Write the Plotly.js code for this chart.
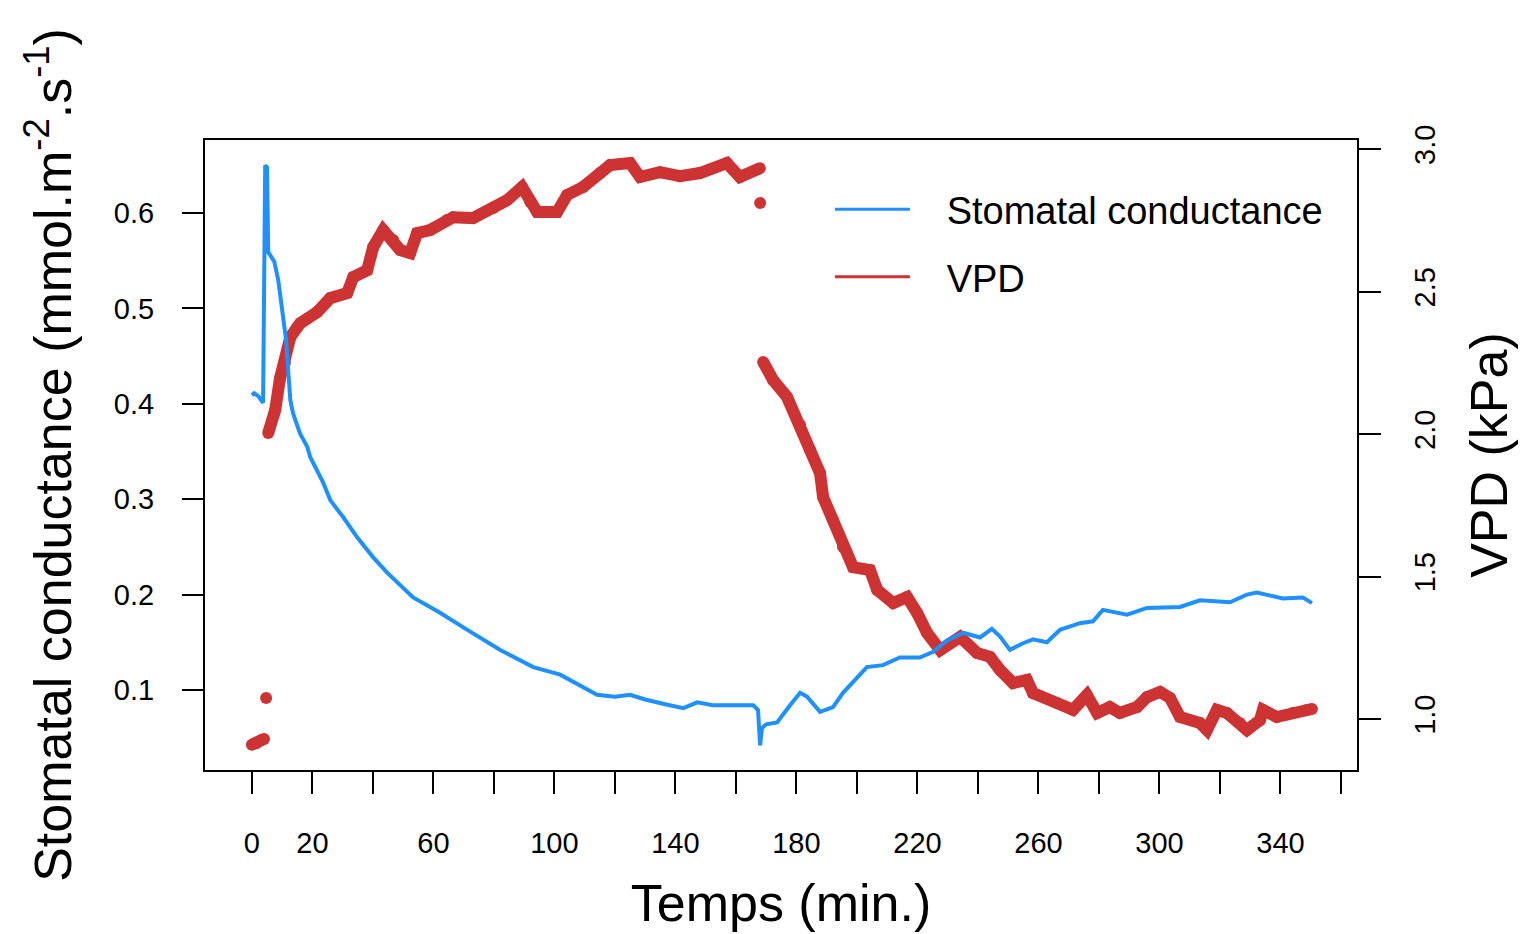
<!DOCTYPE html>
<html>
<head>
<meta charset="utf-8">
<script src="https://cdn.plot.ly/plotly-3.0.1.min.js"></script>
<style>html,body{margin:0;padding:0;background:#fff;}#chart{width:1523px;height:934px;}</style>
</head>
<body>
<div id="chart"></div>
<script>
// Stomatal conductance (mmol m-2 s-1) vs time (min)
const gsTime = [0,0.8,2.1,3.1,3.7,4.4,5.0,5.4,7.4,8.7,10.3,11.3,12.0,12.7,13.6,15.9,18.3,19.3,23.6,25.9,30.2,34.8,40.1,44.7,53.3,62.2,71.2,82.1,93.0,101.9,114.1,120.0,125.0,130.0,136.6,142.6,147.2,152.4,165.7,167.3,168.0,168.6,170.0,173.6,177.9,181.2,183.5,187.8,192.1,195.4,203.3,208.6,214.2,220.8,225.2,229.8,235.1,240.7,244.6,247.3,250.6,254.9,258.2,262.8,267.1,273.7,278.0,281.3,289.3,295.9,306.8,313.4,323.3,328.9,332.2,340.8,347.4,350.4];
const gsValue = [0.409,0.411,0.408,0.403,0.401,0.650,0.648,0.559,0.549,0.530,0.488,0.467,0.435,0.404,0.390,0.369,0.355,0.344,0.317,0.299,0.281,0.260,0.239,0.223,0.197,0.181,0.163,0.142,0.124,0.116,0.095,0.093,0.095,0.090,0.085,0.081,0.087,0.084,0.084,0.079,0.042,0.060,0.064,0.066,0.084,0.097,0.093,0.077,0.082,0.097,0.124,0.126,0.134,0.134,0.140,0.152,0.160,0.155,0.164,0.156,0.142,0.149,0.153,0.150,0.163,0.170,0.172,0.184,0.179,0.186,0.187,0.194,0.192,0.200,0.202,0.196,0.197,0.191];

// VPD (kPa) vs time (min); null separates the recorded point groups
const vpdTime = [0,1.5,3,4,null,4.7,null,5.4,7.7,9.3,10.9,12.7,15.0,16.0,21.6,25.9,31.5,33.5,38.1,40.1,43.4,46.7,49.0,52.3,54.6,58.9,64.5,66.5,73.1,79.8,84.4,89.3,92.0,94.3,100.9,104.2,109.5,115.1,118.4,125.0,128.3,134.9,141.5,148.1,157.0,161.3,167.9,null,168.0,null,169.0,172.3,176.9,181.2,184.5,187.8,188.8,192.1,195.4,198.7,204.3,206.7,212.0,216.6,219.9,223.2,227.5,234.1,239.7,244.0,247.3,251.6,256.2,258.2,266.1,271.4,276.0,279.4,283.6,286.9,292.6,295.9,300.2,303.5,306.8,313.4,315.7,319.0,322.3,326.6,328.9,333.2,334.2,338.8,344.1,348.7,350.4];
const vpdValue = [0.910,0.915,0.925,0.930,null,1.074,null,2.004,2.084,2.196,2.249,2.340,2.375,2.389,2.428,2.477,2.495,2.551,2.575,2.656,2.716,2.681,2.646,2.635,2.705,2.716,2.751,2.761,2.758,2.793,2.821,2.867,2.814,2.779,2.779,2.839,2.867,2.916,2.944,2.951,2.902,2.919,2.905,2.916,2.951,2.902,2.933,null,2.811,null,2.253,2.189,2.130,2.032,1.944,1.863,1.779,1.698,1.604,1.533,1.523,1.453,1.407,1.428,1.372,1.302,1.242,1.288,1.232,1.218,1.172,1.126,1.137,1.091,1.056,1.032,1.084,1.021,1.042,1.021,1.042,1.077,1.095,1.074,1.007,0.986,0.961,1.032,1.021,0.986,0.961,0.996,1.032,1.007,1.021,1.032,1.035];

const xTickLabels = [0,20,60,100,140,180,220,260,300,340];
const xTickStep = 20;
const gsTicks = [0.1,0.2,0.3,0.4,0.5,0.6];
const vpdTicks = [1.0,1.5,2.0,2.5,3.0];

const seriesNames = ['Stomatal conductance','VPD'];
const blue = '#1E90FF', red = '#CD3333';
const FONT = 'Liberation Sans, Arial, Helvetica, sans-serif';

const traces = [
  {x: vpdTime, y: vpdValue, yaxis: 'y', mode: 'lines+markers', connectgaps: false,
   line: {color: red, width: 12}, marker: {color: red, size: 12}, showlegend: false, hoverinfo: 'x+y'},
  {x: gsTime, y: gsValue, yaxis: 'y2', mode: 'lines',
   line: {color: blue, width: 4}, showlegend: false},
  {x: [null], y: [null], yaxis: 'y2', mode: 'lines', name: '\u00a0\u00a0\u00a0' + seriesNames[0],
   line: {color: blue, width: 3}, legend: 'legend', showlegend: true},
  {x: [null], y: [null], yaxis: 'y', mode: 'lines', name: '\u00a0\u00a0\u00a0' + seriesNames[1],
   line: {color: red, width: 3}, legend: 'legend2', showlegend: true}
];

const legendCommon = {xanchor: 'left', yanchor: 'top', bgcolor: 'rgba(0,0,0,0)', borderwidth: 0,
  font: {family: FONT, size: 38, color: '#000'}, itemwidth: 75};

const layout = {
  width: 1523, height: 934,
  margin: {l: 205, r: 166, t: 140, b: 164, pad: 0},
  paper_bgcolor: '#fff', plot_bgcolor: '#fff',
  font: {family: FONT, color: '#000'},
  xaxis: {
    range: [-15.5, 365.3], showgrid: false, zeroline: false,
    showline: true, linecolor: '#000', linewidth: 2, mirror: true,
    ticks: 'outside', ticklen: 22, tickwidth: 2, tickcolor: '#000',
    tickmode: 'array', tickvals: xTickLabels, ticktext: xTickLabels.map(String),
    minor: {tickmode: 'linear', tick0: 0, dtick: xTickStep, ticks: 'outside', ticklen: 22, tickwidth: 2, tickcolor: '#000', showgrid: false},
    tickfont: {family: FONT, size: 29, color: '#000'}, ticklabelstandoff: 24,
    title: {text: 'Temps (min.)', font: {family: FONT, size: 52, color: '#000'}, standoff: 27},
    automargin: false
  },
  yaxis: {
    side: 'right', range: [0.821, 3.032], showgrid: false, zeroline: false,
    showline: true, linecolor: '#000', linewidth: 2, mirror: true,
    ticks: 'outside', ticklen: 22, tickwidth: 2, tickcolor: '#000',
    tickmode: 'array', tickvals: vpdTicks, tickformat: '.1f', tickangle: -90,
    tickfont: {family: FONT, size: 29, color: '#000'}, ticklabelstandoff: 19,
    title: {text: 'VPD (kPa)', font: {family: FONT, size: 52, color: '#000'}, standoff: 31},
    automargin: false
  },
  yaxis2: {
    overlaying: 'y', side: 'left', range: [0.0161, 0.6765], showgrid: false, zeroline: false,
    showline: false,
    ticks: 'outside', ticklen: 22, tickwidth: 2, tickcolor: '#000',
    tickmode: 'array', tickvals: gsTicks, tickformat: '.1f',
    tickfont: {family: FONT, size: 29, color: '#000'}, ticklabelstandoff: 22,
    title: {text: 'Stomatal conductance (mmol.m<sup>-2</sup>.s<sup>-1</sup>)', font: {family: FONT, size: 52, color: '#000'}, standoff: 25},
    automargin: false
  },
  legend: Object.assign({x: 0.5425, y: 0.9395}, legendCommon),
  legend2: Object.assign({x: 0.5425, y: 0.8325}, legendCommon),
  showlegend: true
};

Plotly.newPlot('chart', traces, layout, {displayModeBar: false, staticPlot: true});
</script>
</body>
</html>
